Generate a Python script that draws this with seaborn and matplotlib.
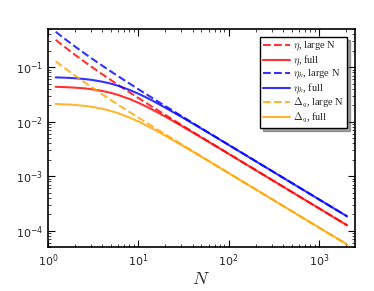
import numpy as np
import pandas as pd
import matplotlib
matplotlib.use('Agg')
import matplotlib.pyplot as plt
import seaborn as sns

# values (log-log axes)
N = [1.22, 1.5, 2, 2.5, 3, 4, 5, 6, 8, 10, 12, 15, 20, 30, 45, 70, 100, 200, 500, 1000, 2048]

eta_large = [0.3177, 0.2421, 0.1683, 0.1283, 0.1034, 0.07421, 0.05777, 0.04726, 0.03461, 0.02729, 0.02252,
             0.01784, 0.01325, 0.008744, 0.00579, 0.003704, 0.002586, 0.001289, 0.000514, 0.000257, 0.0001255]
eta_full = [0.04363, 0.04316, 0.04214, 0.04092, 0.03956, 0.03664, 0.03369, 0.03089, 0.02607, 0.02227, 0.01931,
            0.01599, 0.01235, 0.008413, 0.005665, 0.003659, 0.002566, 0.001285, 0.000514, 0.000257, 0.0001255]
etak_large = [0.446, 0.3417, 0.239, 0.183, 0.1479, 0.1066, 0.0833, 0.0682, 0.0501, 0.0396, 0.03268,
              0.02592, 0.01927, 0.01273, 0.008435, 0.0054, 0.00377, 0.00188, 0.00075, 0.000375, 0.000183]
etak_full = [0.065, 0.0643, 0.0627, 0.0608, 0.0587, 0.0542, 0.0498, 0.0455, 0.0383, 0.0327, 0.0283,
             0.0234, 0.018, 0.01228, 0.00827, 0.00534, 0.003744, 0.001874, 0.00075, 0.000375, 0.000183]
dq_large = [0.1279, 0.0988, 0.06983, 0.05381, 0.0437, 0.03171, 0.02485, 0.02043, 0.01505, 0.01191, 0.009856,
            0.007828, 0.005828, 0.003857, 0.002559, 0.001639, 0.001145, 0.00057, 0.000228, 0.000114, 0.0000557]
dq_full = [0.0211, 0.02083, 0.02025, 0.01956, 0.01882, 0.01724, 0.0157, 0.01428, 0.0119, 0.01009, 0.0087,
           0.00717, 0.00551, 0.003743, 0.002516, 0.001624, 0.001138, 0.00057, 0.000228, 0.000114, 0.0000557]

labels = [r'$\eta$, large N', r'$\eta$, full',
          r'$\eta_k$, large N', r'$\eta_k$, full',
          r'$\Delta_q$, large N', r'$\Delta_q$, full']
series = [eta_large, eta_full, etak_large, etak_full, dq_large, dq_full]
colors = ['red', 'red', 'blue', 'blue', 'orange', 'orange']
styles = ['--', '-', '--', '-', '--', '-']

sns.set_style('ticks')
plt.rcParams['mathtext.fontset'] = 'cm'
plt.rcParams['xtick.direction'] = 'in'
plt.rcParams['ytick.direction'] = 'in'
plt.rcParams['xtick.top'] = True
plt.rcParams['ytick.right'] = True
plt.rcParams['xtick.minor.visible'] = True
plt.rcParams['ytick.minor.visible'] = True

fig, ax = plt.subplots(figsize=(3.74, 2.91), dpi=100)
fig.subplots_adjust(left=0.128, right=0.949, top=0.900, bottom=0.151)

for vals, lab, c, ls in zip(series, labels, colors, styles):
    df = pd.DataFrame({'N': N, 'y': vals})
    sns.lineplot(data=df, x='N', y='y', ax=ax, color=c, linestyle=ls,
                 lw=1.5, alpha=0.8, label=lab)

ax.set_xscale('log')
ax.set_yscale('log')
ax.set_xlim(1, 2500)
ax.set_ylim(5e-5, 0.5)
ax.set_xlabel(r'$N$', fontsize=13, labelpad=1)
ax.set_ylabel('')
ax.tick_params(labelsize=8, length=5, width=0.8, color='black')
ax.tick_params(which='minor', length=2.5, width=0.6)
for s in ax.spines.values():
    s.set_color('black')
    s.set_linewidth(1.2)

leg = ax.legend(loc='upper right', frameon=True, fancybox=False,
                shadow=True, handlelength=2.5, borderaxespad=0.75,
                labelspacing=0.02, handletextpad=0.35, borderpad=0.3,
                prop={'family': 'Liberation Serif', 'size': 7.5})
leg.get_frame().set_edgecolor('black')
leg.get_frame().set_alpha(1)

fig.savefig('out.png', dpi=100)
